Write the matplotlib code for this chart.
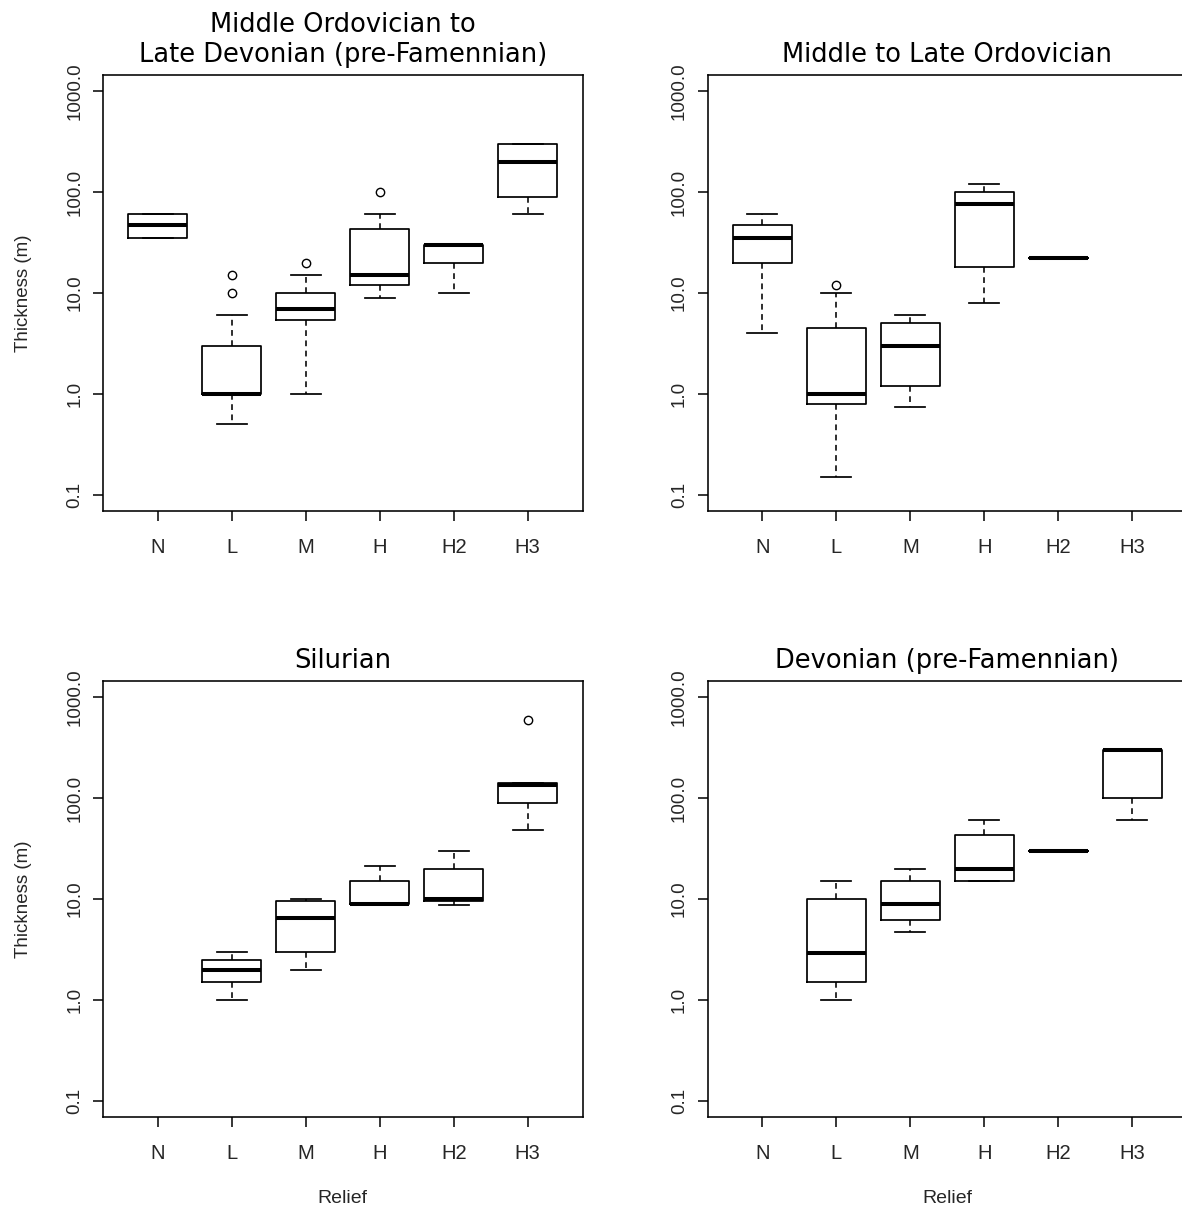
import matplotlib
matplotlib.use("Agg")
import matplotlib.pyplot as plt

relief = ["N", "L", "M", "H", "H2", "H3"]
ytick_vals = [0.1, 1, 10, 100, 1000]
ytick_labels = ["0.1", "1.0", "10.0", "100.0", "1000.0"]

# Middle Ordovician to Late Devonian (pre-Famennian)
mold_whislo = [35, 0.5, 1.0, 9, 10, 60]
mold_q1 = [35, 1.0, 5.4, 12, 20, 90]
mold_med = [47, 1.0, 7.0, 15, 30, 200]
mold_q3 = [60, 3.0, 10, 43, 30, 300]
mold_whishi = [60, 6, 15, 60, 30, 300]
mold_fliers = [[], [10, 15], [20], [100], [], []]

# Middle to Late Ordovician
mlo_whislo = [4, 0.15, 0.75, 8, 22, None]
mlo_q1 = [20, 0.8, 1.2, 18, 22, None]
mlo_med = [35, 1.0, 3.0, 76, 22, None]
mlo_q3 = [47, 4.5, 5.0, 100, 22, None]
mlo_whishi = [60, 10, 6, 120, 22, None]
mlo_fliers = [[], [12], [], [], [], []]

# Silurian
sil_whislo = [None, 1.0, 2.0, 9, 8.7, 48]
sil_q1 = [None, 1.5, 3.0, 9, 9.5, 89]
sil_med = [None, 2.0, 6.5, 9, 10, 135]
sil_q3 = [None, 2.5, 9.5, 15, 20, 140]
sil_whishi = [None, 3.0, 10, 21, 30, 140]
sil_fliers = [[], [], [], [], [], [600]]

# Devonian (pre-Famennian)
dev_whislo = [None, 1.0, 4.7, 15, 30, 60]
dev_q1 = [None, 1.5, 6.2, 15, 30, 100]
dev_med = [None, 2.9, 9.0, 20, 30, 300]
dev_q3 = [None, 10, 15, 43, 30, 300]
dev_whishi = [None, 15, 20, 60, 30, 300]
dev_fliers = [[], [], [], [], [], []]

panels = [
    ("Middle Ordovician to\nLate Devonian (pre-Famennian)",
     mold_whislo, mold_q1, mold_med, mold_q3, mold_whishi, mold_fliers),
    ("Middle to Late Ordovician",
     mlo_whislo, mlo_q1, mlo_med, mlo_q3, mlo_whishi, mlo_fliers),
    ("Silurian",
     sil_whislo, sil_q1, sil_med, sil_q3, sil_whishi, sil_fliers),
    ("Devonian (pre-Famennian)",
     dev_whislo, dev_q1, dev_med, dev_q3, dev_whishi, dev_fliers),
]

W, H = 1182, 1213
fig = plt.figure(figsize=(W / 100, H / 100), dpi=100)

# axes rectangles in pixels: left, top (width/height shared)
rects = [(103, 75), (707.5, 75), (103, 681), (707.5, 681)]
ax_w, ax_h = 479.5, 436

AXIS_FONT = "Liberation Sans"
TITLE_FONT = "DejaVu Sans"
TEXT_COL = "#262626"

for i, (title, lo, q1, med, q3, hi, fl) in enumerate(panels):
    left, top = rects[i]
    ax = fig.add_axes([left / W, 1 - (top + ax_h) / H, ax_w / W, ax_h / H])

    stats, pos = [], []
    for k in range(len(relief)):
        if med[k] is None:
            continue
        stats.append(dict(whislo=lo[k], q1=q1[k], med=med[k], q3=q3[k],
                          whishi=hi[k], fliers=fl[k], label=relief[k]))
        pos.append(k + 1)

    ax.bxp(stats, positions=pos, widths=0.8, capwidths=0.4,
           boxprops=dict(color="black", linewidth=1.25),
           whiskerprops=dict(color="black", linewidth=1.15, linestyle=(0, (3.6, 2.8))),
           capprops=dict(color="black", linewidth=1.25),
           medianprops=dict(color="black", linewidth=2.9, solid_capstyle="butt"),
           flierprops=dict(marker="o", markersize=6, markerfacecolor="none",
                           markeredgecolor="black", markeredgewidth=1.0))

    ax.set_yscale("log")
    ax.set_ylim(10 ** -1.16, 10 ** 3.16)
    ax.set_xlim(0.26, 6.74)
    ax.set_yticks(ytick_vals)
    ax.set_yticklabels(ytick_labels, rotation=90, va="center",
                       family=AXIS_FONT, fontsize=13.5, color=TEXT_COL)
    ax.minorticks_off()
    ax.set_xticks(range(1, len(relief) + 1))
    ax.set_xticklabels(relief, family=AXIS_FONT, fontsize=14.5, color=TEXT_COL)
    ax.tick_params(axis="both", direction="out", length=7.2, width=1.1)
    ax.tick_params(axis="x", pad=12)
    ax.tick_params(axis="y", pad=7)
    for s in ax.spines.values():
        s.set_linewidth(1.15)

    ax.set_title(title, family=TITLE_FONT, fontsize=18.5, linespacing=1.2, pad=9)

    if i % 2 == 0:
        ax.set_ylabel("Thickness (m)", family=AXIS_FONT, fontsize=13.5, color=TEXT_COL)
        ax.yaxis.set_label_coords(-0.148, 0.5)
    if i >= 2:
        ax.set_xlabel("Relief", family=AXIS_FONT, fontsize=14, color=TEXT_COL)
        ax.xaxis.set_label_coords(0.5, -0.168)

fig.savefig("out.png", dpi=100, facecolor="white")
